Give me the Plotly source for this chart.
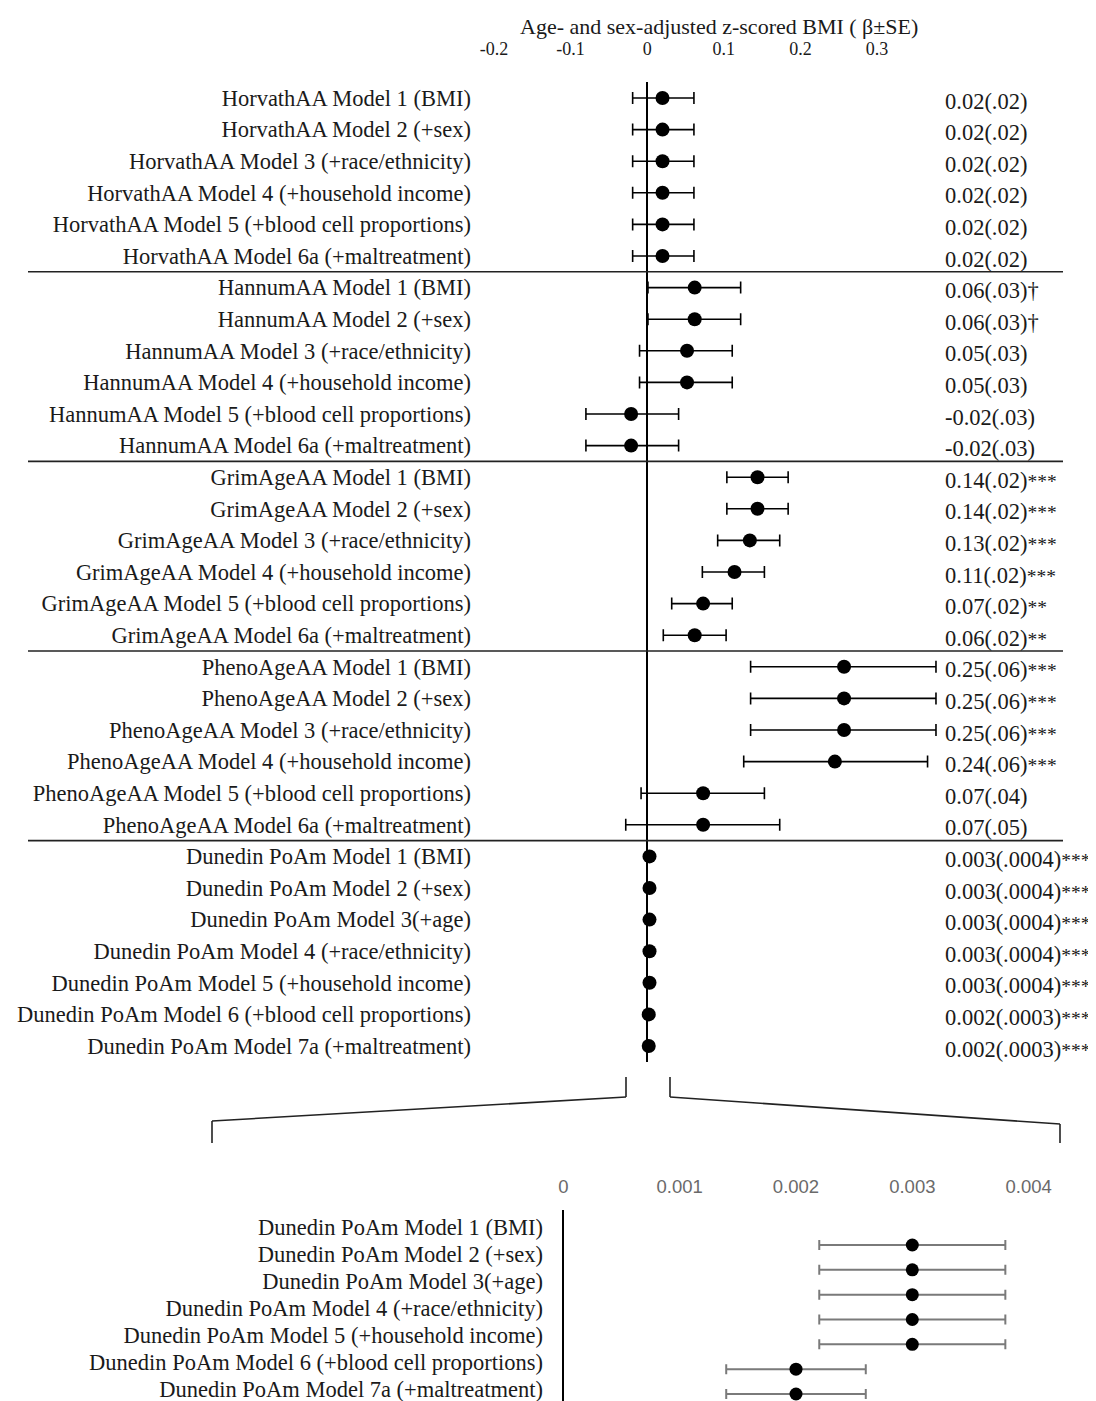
import plotly.graph_objects as go

W, H = 1096, 1401
OFF = 8                      # default page margin of the html body
FW, FH = W - OFF, H - OFF    # figure size so that it ends at the window edge

# ---------------- data ----------------
groups = ["HorvathAA", "HannumAA", "GrimAgeAA", "PhenoAgeAA"]
model_suffix = ["Model 1 (BMI)", "Model 2 (+sex)", "Model 3 (+race/ethnicity)",
                "Model 4 (+household income)", "Model 5 (+blood cell proportions)",
                "Model 6a (+maltreatment)"]
dunedin_labels = ["Dunedin PoAm Model 1 (BMI)", "Dunedin PoAm Model 2 (+sex)",
                  "Dunedin PoAm Model 3(+age)", "Dunedin PoAm Model 4 (+race/ethnicity)",
                  "Dunedin PoAm Model 5 (+household income)",
                  "Dunedin PoAm Model 6 (+blood cell proportions)",
                  "Dunedin PoAm Model 7a (+maltreatment)"]

horvath_est = [0.020, 0.020, 0.020, 0.020, 0.020, 0.020]
horvath_lo = [-0.019, -0.019, -0.019, -0.019, -0.019, -0.019]
horvath_hi = [0.061, 0.061, 0.061, 0.061, 0.061, 0.061]
horvath_txt = ["0.02(.02)"] * 6
horvath_sig = [""] * 6

hannum_est = [0.062, 0.062, 0.052, 0.052, -0.021, -0.021]
hannum_lo = [0.001, 0.001, -0.010, -0.010, -0.080, -0.080]
hannum_hi = [0.122, 0.122, 0.111, 0.111, 0.041, 0.041]
hannum_txt = ["0.06(.03)\u2020", "0.06(.03)\u2020", "0.05(.03)", "0.05(.03)",
              "-0.02(.03)", "-0.02(.03)"]
hannum_sig = [""] * 6

grim_est = [0.144, 0.144, 0.134, 0.114, 0.073, 0.062]
grim_lo = [0.104, 0.104, 0.092, 0.072, 0.032, 0.021]
grim_hi = [0.184, 0.184, 0.173, 0.153, 0.111, 0.103]
grim_txt = ["0.14(.02)", "0.14(.02)", "0.13(.02)", "0.11(.02)",
            "0.07(.02)", "0.06(.02)"]
grim_sig = ["***", "***", "***", "***", "**", "**"]

pheno_est = [0.257, 0.257, 0.257, 0.245, 0.073, 0.073]
pheno_lo = [0.135, 0.135, 0.135, 0.126, -0.008, -0.028]
pheno_hi = [0.377, 0.377, 0.377, 0.366, 0.153, 0.173]
pheno_txt = ["0.25(.06)", "0.25(.06)", "0.25(.06)", "0.24(.06)",
             "0.07(.04)", "0.07(.05)"]
pheno_sig = ["***", "***", "***", "***", "", ""]

dunedin_est = [0.0030, 0.0030, 0.0030, 0.0030, 0.0030, 0.0020, 0.0020]
dunedin_lo = [0.0022, 0.0022, 0.0022, 0.0022, 0.0022, 0.0014, 0.0014]
dunedin_hi = [0.0038, 0.0038, 0.0038, 0.0038, 0.0038, 0.0026, 0.0026]
dunedin_txt = ["0.003(.0004)"] * 5 + ["0.002(.0003)"] * 2
dunedin_sig = ["***"] * 7

top_ticks = [-0.2, -0.1, 0, 0.1, 0.2, 0.3]
top_ticktext = ["-0.2", "-0.1", "0", "0.1", "0.2", "0.3"]
bot_ticks = [0, 0.001, 0.002, 0.003, 0.004]
bot_ticktext = ["0", "0.001", "0.002", "0.003", "0.004"]
x_title = "Age- and sex-adjusted z-scored BMI ( \u03b2\u00b1SE)"

# assemble top panel rows
top_labels = [g + " " + s for g in groups for s in model_suffix] + dunedin_labels
top_est = horvath_est + hannum_est + grim_est + pheno_est + dunedin_est
top_lo = horvath_lo + hannum_lo + grim_lo + pheno_lo + dunedin_lo
top_hi = horvath_hi + hannum_hi + grim_hi + pheno_hi + dunedin_hi
top_txt = horvath_txt + hannum_txt + grim_txt + pheno_txt + dunedin_txt
top_sig = horvath_sig + hannum_sig + grim_sig + pheno_sig + dunedin_sig
n_top = len(top_labels)
top_rows = list(range(n_top))
bot_rows = list(range(len(dunedin_labels)))

SERIF = "Liberation Serif, Times New Roman, serif"
SANS = "Liberation Sans, Arial, sans-serif"
INK = "#1a1a1a"


def px(v):
    return (v - OFF) / FW


def py(v):
    return 1 - (v - OFF) / FH


fig = go.Figure()

# top forest plot
fig.add_trace(go.Scatter(
    x=top_est, y=top_rows, mode="markers", xaxis="x", yaxis="y",
    marker=dict(color="black", size=14),
    error_x=dict(type="data", symmetric=False,
                 array=[h - e for h, e in zip(top_hi, top_est)],
                 arrayminus=[e - l for e, l in zip(top_est, top_lo)],
                 color="black", thickness=1.6, width=6),
    showlegend=False, hoverinfo="skip"))

# zoomed Dunedin panel
fig.add_trace(go.Scatter(
    x=dunedin_est, y=bot_rows, mode="markers", xaxis="x2", yaxis="y2",
    marker=dict(color="black", size=13),
    error_x=dict(type="data", symmetric=False,
                 array=[h - e for h, e in zip(dunedin_hi, dunedin_est)],
                 arrayminus=[e - l for e, l in zip(dunedin_est, dunedin_lo)],
                 color="#7a7a7a", thickness=2, width=5),
    showlegend=False, hoverinfo="skip"))

# invisible trace carrying the label axis of the zoom panel
fig.add_trace(go.Scatter(
    x=dunedin_est, y=bot_rows, mode="markers", xaxis="x2", yaxis="y3",
    marker=dict(opacity=0), showlegend=False, hoverinfo="skip"))

# axis geometry (target pixel based)
x0_px, zero_px, unit_px = 476, 647.2, 766.0
xr0 = -(zero_px - x0_px) / unit_px
xr1 = xr0 + (W - x0_px) / unit_px

bx0_px, bzero_px, bunit_px = 548, 563.4, 116300.0
bxr0 = -(bzero_px - bx0_px) / bunit_px
bxr1 = bxr0 + (W - bx0_px) / bunit_px

top_dom = [py(1062), py(82)]
row0_px, rowN_px = 98, 1046
step = (rowN_px - row0_px) / (n_top - 1)
yr_top = (n_top - 1) + (1062 - rowN_px) / step
yr_bot = -(row0_px - 82) / step

bot_dom = [0, py(1210)]
bp0, bpN = 1245, 1394
bstep = (bpN - bp0) / 6
y2_range = [6 + (H - bpN) / bstep, -(bp0 - 1210) / bstep]
bl0, blN = 1227, 1389
blstep = (blN - bl0) / 6
y3_range = [6 + (H - blN) / blstep, -(bl0 - 1210) / blstep]

LBL = 22.5

fig.update_layout(
    width=FW, height=FH, autosize=False,
    margin=dict(l=0, r=0, t=0, b=0, pad=0),
    paper_bgcolor="white", plot_bgcolor="white",
    font=dict(family=SERIF, color=INK),
    xaxis=dict(domain=[px(x0_px), 1], range=[xr0, xr1], anchor="y", side="top",
               tickmode="array", tickvals=top_ticks, ticktext=top_ticktext,
               tickfont=dict(family=SERIF, size=18, color=INK), ticks="",
               ticklabelstandoff=22,
               showgrid=False, showline=False, zeroline=True,
               zerolinecolor="black", zerolinewidth=1.5, fixedrange=True),
    yaxis=dict(domain=top_dom, range=[yr_top, yr_bot], anchor="x",
               tickmode="array", tickvals=top_rows, ticktext=top_labels,
               tickfont=dict(family=SERIF, size=LBL, color=INK), ticks="",
               ticklabelstandoff=4, ticklabeloverflow="allow",
               showgrid=False, showline=False, zeroline=False, fixedrange=True),
    xaxis2=dict(domain=[px(bx0_px), 1], range=[bxr0, bxr1], anchor="y2", side="top",
                tickmode="array", tickvals=bot_ticks, ticktext=bot_ticktext,
                tickfont=dict(family=SANS, size=18.5, color="#6a6a6a"), ticks="",
                ticklabelstandoff=12,
                showgrid=False, showline=False, zeroline=True,
                zerolinecolor="black", zerolinewidth=1.5, fixedrange=True),
    yaxis2=dict(domain=bot_dom, range=y2_range, anchor="x2",
                showticklabels=False, ticks="",
                showgrid=False, showline=False, zeroline=False, fixedrange=True),
    yaxis3=dict(overlaying="y2", anchor="x2", side="left", range=y3_range,
                tickmode="array", tickvals=bot_rows, ticktext=dunedin_labels,
                tickfont=dict(family=SERIF, size=22.5, color=INK), ticks="",
                ticklabelstandoff=4, ticklabeloverflow="allow",
                showgrid=False, showline=False, zeroline=False, fixedrange=True),
)

shapes = []
# group separators
for b in [5.5, 11.5, 17.5, 23.5]:
    shapes.append(dict(type="line", xref="paper", yref="y", x0=px(28), x1=px(1063),
                       y0=b, y1=b, line=dict(color="#222", width=1.6)))
# zoom bracket
bracket = [
    [(626, 1077), (626, 1097), (212, 1121), (212, 1143)],
    [(670, 1077), (670, 1097), (1060, 1124), (1060, 1143)],
]
for pts in bracket:
    for (a, b), (c, d) in zip(pts[:-1], pts[1:]):
        shapes.append(dict(type="line", xref="paper", yref="paper",
                           x0=px(a), y0=py(b), x1=px(c), y1=py(d),
                           line=dict(color="#222", width=1.6)))

annotations = [dict(text=x_title, xref="paper", yref="paper", x=px(719), y=py(27),
                    xanchor="center", yanchor="middle", showarrow=False,
                    font=dict(family=SERIF, size=22, color=INK))]
for r, t, s in zip(top_rows, top_txt, top_sig):
    label = t + (f"<span style='font-size:19.5px'>{s}</span>" if s else "")
    annotations.append(dict(text=label, xref="paper", yref="y", x=px(943), y=r,
                            xanchor="left", yanchor="middle", showarrow=False,
                            yshift=-3, font=dict(family=SERIF, size=LBL, color=INK)))

fig.update_layout(shapes=shapes, annotations=annotations)

fig.write_html("out.html")
